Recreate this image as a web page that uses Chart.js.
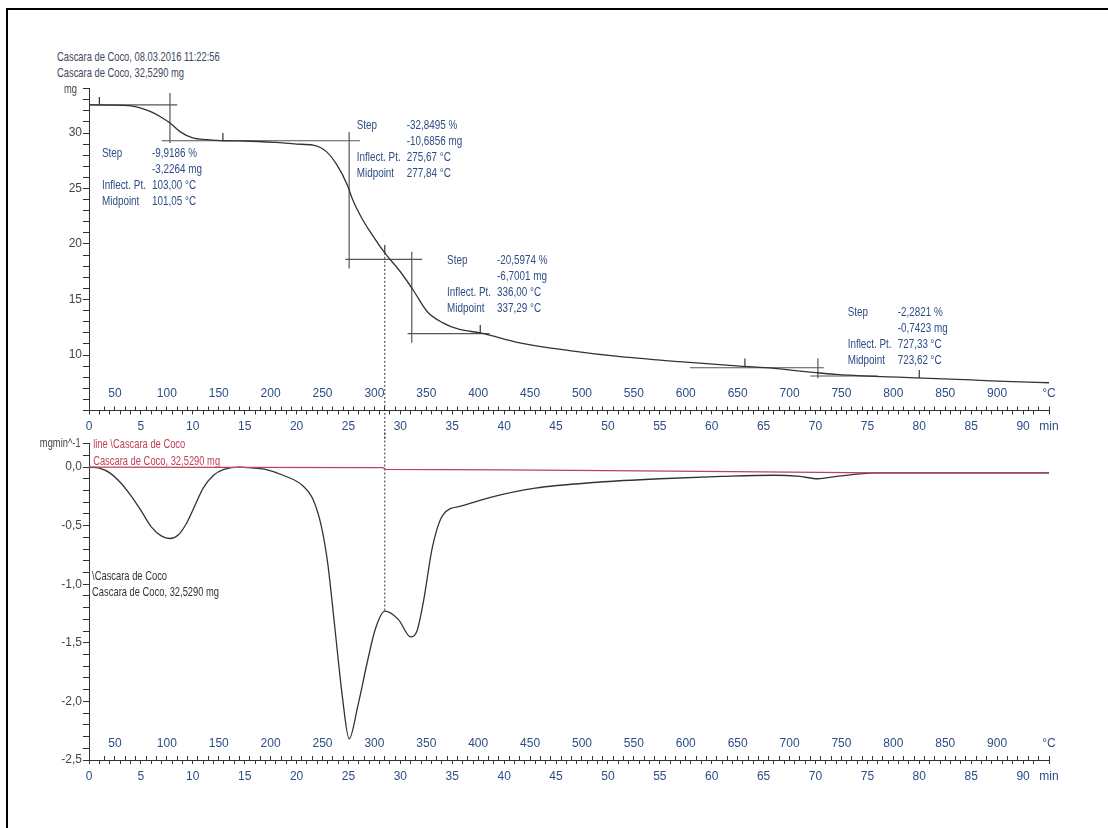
<!DOCTYPE html>
<html>
<head>
<meta charset="utf-8">
<title>Cascara de Coco TGA</title>
<script src="https://cdn.jsdelivr.net/npm/chart.js@4.4.0/dist/chart.umd.min.js"></script>
<style>
  body { margin: 0; background: #fff; width: 1108px; height: 828px; overflow: hidden; position: relative; }
  #frame { position: absolute; left: 6px; top: 8px; right: 0; bottom: 0; border-top: 2px solid #000; border-left: 2px solid #000; }
  canvas { position: absolute; left: 0; }
  #tg { top: 80px; }
  #dtg { top: 430px; }
  .lbl { position: absolute; white-space: nowrap; font-size: 13px; line-height: 15px; color: #3d4860;
         font-family: 'Liberation Sans', Arial, sans-serif;
         transform: scaleX(0.72); transform-origin: left center; }
</style>
</head>
<body>
<div id="frame"></div>
<canvas id="tg" width="1108" height="360"></canvas>
<canvas id="dtg" width="1108" height="380"></canvas>
<div class="lbl" style="left:57px; top:49px;">Cascara de Coco, 08.03.2016 11:22:56</div>
<div class="lbl" style="left:57px; top:65px;">Cascara de Coco, 32,5290 mg</div>
<div class="lbl" style="left:64px; top:81px; color:#444;">mg</div>
<div class="lbl" style="right:1027px; top:435px; color:#444; transform-origin: right center;">mgmin^-1</div>
<script>
// heating program: 25 °C start, 10 K/min
const START_C = 25;
const RATE = 10;
const T_MAX = 92.5;

// TG curve (min, mg)
const tgTime = [0, 2, 4, 5, 6, 7, 7.8, 8.8, 10, 11.4, 13, 15, 18, 20, 21.6, 22.9, 23.9, 24.9, 25.4, 26.3,
  27.1, 28.5, 30.0, 31.2, 32.6, 34.1, 35.7, 37.7, 41.5, 46.3, 51.2, 56.9, 62.7, 66, 68.5, 70.2, 72, 75, 78, 81,
  85, 89, 92.5];
const tgMass = [32.53, 32.52, 32.45, 32.25, 31.9, 31.4, 30.9, 30.1, 29.55, 29.4, 29.3, 29.28, 29.15, 29.0, 28.9, 28.3, 27.1, 25.3, 24.0, 22.3,
  21.1, 19.2, 17.5, 15.9, 13.9, 12.9, 12.3, 12.0, 11.1, 10.4, 9.85, 9.4, 9.0, 8.8, 8.55, 8.4, 8.25, 8.1, 8.0, 7.9,
  7.75, 7.6, 7.5];

// DTG curve (min, mg/min)
const dtgTime = [0, 1, 2, 3, 4, 5, 6, 7, 7.8, 8.6, 9.4, 10.2, 11, 12, 13, 14.5, 16, 17, 18.7, 20.6,
  21.6, 22.4, 23.0, 23.7, 24.4, 25.07, 25.9, 26.8, 27.6, 28.5, 29.8, 31.0, 31.6, 32.2, 33.1, 34.1, 36.0, 38.6, 43, 49,
  55, 61, 66, 68.5, 70.2, 72, 74, 76, 84, 92.5];
const dtgRate = [0, -0.01, -0.05, -0.13, -0.24, -0.37, -0.51, -0.59, -0.61, -0.58, -0.48, -0.33, -0.18, -0.07, -0.02, 0.0, -0.01, -0.02, -0.07, -0.16,
  -0.28, -0.51, -0.82, -1.38, -1.95, -2.32, -2.04, -1.67, -1.38, -1.23, -1.30, -1.45, -1.40, -1.16, -0.68, -0.41, -0.33, -0.26, -0.18, -0.13,
  -0.10, -0.08, -0.07, -0.08, -0.10, -0.08, -0.06, -0.05, -0.05, -0.05];

// blank curve
const blankTime = [0, 28.3, 28.6, 40, 50, 62, 76, 92.5];
const blankRate = [0, -0.005, -0.02, -0.025, -0.03, -0.04, -0.05, -0.05];

// step evaluation results
const sampleMass = 32.5290;
const stepPercent = [-9.9186, -32.8495, -20.5974, -2.2821];
const stepLossMg = [-3.2264, -10.6856, -6.7001, -0.7423];
const stepInflectC = [103.00, 275.67, 336.00, 727.33];
const stepMidpointC = [101.05, 277.84, 337.29, 723.62];
const stepVTop = [33.6, 30.1, 19.3, 9.7];
const stepVBottom = [29.1, 17.8, 11.1, 7.9];
const step4Upper = 8.85;

// tangent baselines (from, to in min)
const baseFrom = [0, 7.0, 24.7, 30.7, 57.9, 69.5];
const baseTo = [8.5, 26.1, 32.1, 38.6, 70.8, 76.0];

// evaluation limits
const limitTime = [1.0, 12.9, 28.5, 37.7, 63.2, 80.0];
const limitMass = [32.53, 29.3, 19.2, 12.0, 8.97, 7.93];

// result table anchors (min, mg)
const noteTime = [1.25, 25.8, 34.5, 73.1];
const noteMass = [28.2, 30.72, 18.5, 13.87];

// cursor linking both plots
const linkTime = 28.5;
const linkMass = 19.2;
const linkRate = -1.23;

// tick labels
const timeLabels = [0, 5, 10, 15, 20, 25, 30, 35, 40, 45, 50, 55, 60, 65, 70, 75, 80, 85, 90];
const tempLabels = [50, 100, 150, 200, 250, 300, 350, 400, 450, 500, 550, 600, 650, 700, 750, 800, 850, 900];
const massLabels = [10, 15, 20, 25, 30];
const rateLabels = [0, -0.5, -1, -1.5, -2, -2.5];

const FONT = "'Liberation Sans', Arial, sans-serif";
const BLUE = '#2e4d86';
const INK = '#333';
const RED = '#c0405a';

const timeOf = c => (c - START_C) / RATE;
const comma = (v, d) => v.toFixed(d).replace('.', ',');
const pts = (xs, ys) => xs.map((x, i) => ({ x: x, y: ys[i] }));

function line(data, extra) {
  return Object.assign({
    data: data, xAxisID: 'x', showLine: true, pointRadius: 0,
    borderColor: INK, borderWidth: 1.2, fill: false
  }, extra || {});
}

// narrow text block anchored at data coordinates
function makeNotes(items) {
  return {
    id: 'notes',
    afterDatasetsDraw(chart) {
      const { ctx, scales } = chart;
      items.forEach(n => {
        const x = scales.x.getPixelForValue(n.t) + (n.dx || 0);
        const y = scales.y.getPixelForValue(n.y) + (n.dy || 0);
        ctx.save();
        ctx.font = '13px ' + FONT;
        ctx.fillStyle = n.color;
        ctx.textBaseline = 'middle';
        ctx.textAlign = 'left';
        ctx.translate(x, y);
        ctx.scale(n.sx || 0.76, 1);
        ctx.fillText(n.text, 0, 0);
        ctx.restore();
      });
    }
  };
}

function xScales() {
  return {
    x: {
      type: 'linear', position: 'bottom', weight: 1,
      min: 0, max: T_MAX,
      border: { display: true, color: INK, width: 1 },
      grid: { drawOnChartArea: false, tickLength: 4, color: INK },
      ticks: {
        stepSize: 1, autoSkip: false, maxRotation: 0, padding: 5, color: BLUE,
        font: { family: FONT, size: 12 },
        callback: v => timeLabels.includes(v) ? String(v) : (v === T_MAX ? 'min' : '')
      },
      afterFit: s => { s.height = 24; }
    },
    // temperature scale sits on the same line, labels inside the plot
    temp: {
      type: 'linear', position: 'bottom', weight: 0,
      min: START_C, max: START_C + RATE * T_MAX,
      border: { display: false },
      grid: { drawOnChartArea: false, tickLength: -4, color: INK },
      ticks: {
        stepSize: 10, autoSkip: false, maxRotation: 0, mirror: true, padding: 9.5, color: BLUE,
        font: { family: FONT, size: 12 },
        callback: v => tempLabels.includes(v) ? String(v) : (v === START_C + RATE * T_MAX ? '°C' : '')
      },
      afterFit: s => { s.height = 0; }
    }
  };
}

// ---- TG plot ----
const tgSets = [line(pts(tgTime, tgMass), { borderWidth: 1.3, cubicInterpolationMode: 'monotone' })];

const levels = [sampleMass];
stepLossMg.slice(0, 3).forEach((d, i) => levels.push(levels[i] + d));
levels.push(step4Upper, step4Upper + stepLossMg[3]);
baseFrom.forEach((f, i) => {
  tgSets.push(line([{ x: f, y: levels[i] }, { x: baseTo[i], y: levels[i] }], { borderColor: '#555' }));
});
stepInflectC.forEach((c, i) => {
  const t = timeOf(c);
  tgSets.push(line([{ x: t, y: stepVTop[i] }, { x: t, y: stepVBottom[i] }], { borderColor: '#555' }));
});
tgSets.push(line(pts(limitTime, limitMass.map(m => m + 0.35)), {
  showLine: false, pointStyle: 'line', rotation: 90, pointRadius: 4, borderWidth: 1.2
}));
tgSets.push(line([{ x: linkTime, y: linkMass }, { x: linkTime, y: -100 }], {
  borderWidth: 1, borderDash: [2, 2], clip: false
}));

const tgNotes = [];
stepPercent.forEach((p, i) => {
  const rows = [
    ['Step', comma(p, 4) + ' %'],
    ['', comma(stepLossMg[i], 4) + ' mg'],
    ['Inflect. Pt.', comma(stepInflectC[i], 2) + ' °C'],
    ['Midpoint', comma(stepMidpointC[i], 2) + ' °C']
  ];
  rows.forEach((r, k) => {
    if (r[0]) tgNotes.push({ t: noteTime[i], y: noteMass[i], dy: k * 16, text: r[0], color: BLUE });
    tgNotes.push({ t: noteTime[i], y: noteMass[i], dx: 50, dy: k * 16, text: r[1], color: BLUE });
  });
});

const tgScales = xScales();
tgScales.y = {
  type: 'linear', position: 'left', min: 5, max: 34,
  border: { color: INK },
  grid: { drawOnChartArea: false, tickLength: 6, color: INK },
  ticks: {
    stepSize: 1, autoSkip: false, padding: 1, color: '#444',
    font: { family: FONT, size: 12 },
    callback: v => massLabels.includes(v) ? String(v) : ''
  },
  afterFit: s => { s.width = 89; }
};

new Chart(document.getElementById('tg'), {
  type: 'scatter',
  data: { datasets: tgSets },
  options: {
    responsive: false, animation: false, devicePixelRatio: 1,
    layout: { padding: { top: 8.6, bottom: 5.5, left: 0, right: 59 } },
    plugins: { legend: { display: false }, tooltip: { enabled: false } },
    scales: tgScales
  },
  plugins: [makeNotes(tgNotes)]
});

// ---- DTG plot ----
const dtgSets = [
  line(pts(blankTime, blankRate), { borderColor: RED, borderWidth: 1.2 }),
  line(pts(dtgTime, dtgRate), { borderWidth: 1.3, cubicInterpolationMode: 'monotone' }),
  line([{ x: linkTime, y: 100 }, { x: linkTime, y: linkRate }], { borderWidth: 1, borderDash: [2, 2], clip: false })
];

const dtgNotes = [
  { t: 0.4, y: 0.19, text: 'line \\Cascara de Coco', color: RED, sx: 0.72 },
  { t: 0.4, y: 0.05, text: 'Cascara de Coco, 32,5290 mg', color: RED, sx: 0.72 },
  { t: 0.3, y: -0.93, text: '\\Cascara de Coco', color: INK, sx: 0.72 },
  { t: 0.3, y: -1.07, text: 'Cascara de Coco, 32,5290 mg', color: INK, sx: 0.72 }
];

const dtgScales = xScales();
dtgScales.y = {
  type: 'linear', position: 'left', min: -2.5, max: 0.2,
  border: { color: INK },
  grid: { drawOnChartArea: false, tickLength: 6, color: INK },
  ticks: {
    stepSize: 0.1, autoSkip: false, padding: 1, color: '#444',
    font: { family: FONT, size: 12 },
    callback: v => rateLabels.some(r => Math.abs(r - v) < 1e-6) ? comma(v, 1) : ''
  },
  afterFit: s => { s.width = 89; }
};

new Chart(document.getElementById('dtg'), {
  type: 'scatter',
  data: { datasets: dtgSets },
  options: {
    responsive: false, animation: false, devicePixelRatio: 1,
    layout: { padding: { top: 13.6, bottom: 26, left: 0, right: 59 } },
    plugins: { legend: { display: false }, tooltip: { enabled: false } },
    scales: dtgScales
  },
  plugins: [makeNotes(dtgNotes)]
});
</script>
</body>
</html>
